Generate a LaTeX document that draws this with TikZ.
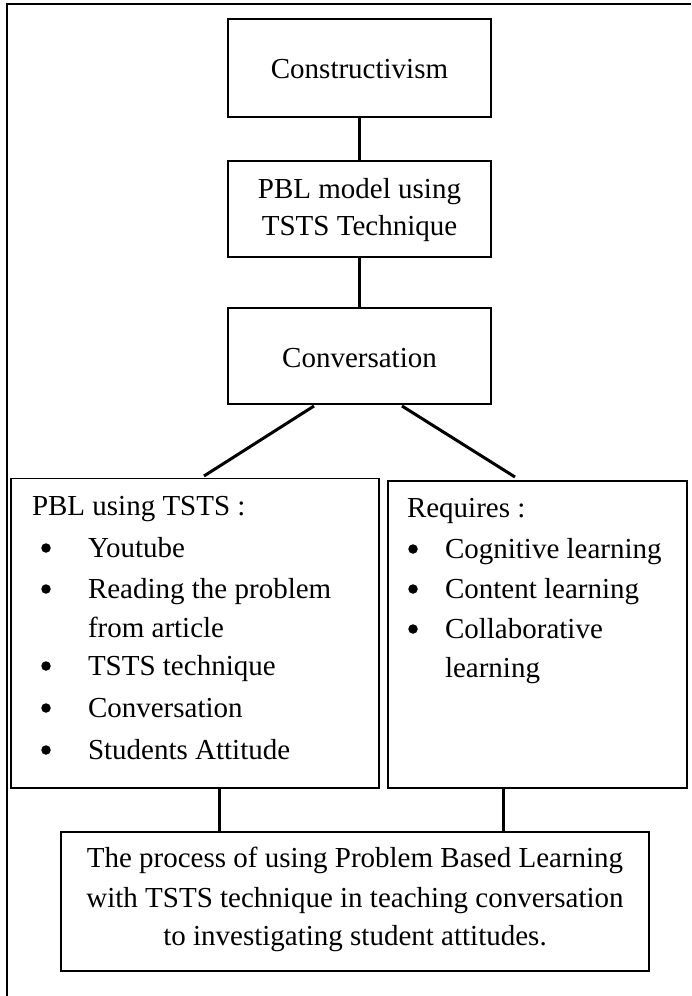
\documentclass[tikz,border=0pt]{standalone}
\usepackage{fontspec}
\setmainfont{Liberation Serif}
\begin{document}
\begin{tikzpicture}[x=1pt,y=-1pt,
  box/.style={draw,line width=1.1pt,rectangle,inner sep=0pt,outer sep=0pt},
  conn/.style={line width=3pt},
  frameline/.style={line width=2.3pt},
  txt/.style={inner sep=0pt,outer sep=0pt,font=\fontsize{29}{40}\selectfont},
  blt/.style={circle,fill=black,inner sep=0pt,minimum size=9.5pt}]
\useasboundingbox (0,0) rectangle (691,996);
% outer frame (only top and left visible)
\coordinate (fa) at (6.7,996);
\coordinate (fb) at (6.7,4);
\coordinate (fc) at (691,4);
\draw[frameline] (fa) -- (fb) -- (fc);
% boxes
\node[box,minimum width=263,minimum height=98] (c1) at (359.5,68) {};
\node[box,minimum width=263,minimum height=96] (c2) at (359.5,209) {};
\node[box,minimum width=263,minimum height=96] (c3) at (359.5,356) {};
\node[box,minimum width=368,minimum height=309.3] (lb) at (195,633.35) {};
\node[box,minimum width=299,minimum height=307] (rb) at (537.5,634.5) {};
\node[box,minimum width=588,minimum height=139] (bb) at (355,901.5) {};
% texts
\node[txt,anchor=base] (t1) at (359.5,78) {Constructivism};
\node[txt,anchor=base] (t2a) at (359.5,198) {PBL model using};
\node[txt,anchor=base] (t2b) at (359.5,235) {TSTS Technique};
\node[txt,anchor=base] (t3) at (359.5,367) {Conversation};
% left list
\node[txt,anchor=base west] (lh) at (32,515) {PBL using TSTS :};
\node[blt] (lb1) at (46,548) {};
\node[txt,anchor=base west] (l1) at (88,557) {Youtube};
\node[blt] (lb2) at (46,589) {};
\node[txt,anchor=base west] (l2) at (88,598) {Reading the problem};
\node[txt,anchor=base west] (l2b) at (88,637) {from article};
\node[blt] (lb3) at (46,666) {};
\node[txt,anchor=base west] (l3) at (88,675) {TSTS technique};
\node[blt] (lb4) at (46,708) {};
\node[txt,anchor=base west] (l4) at (88,717) {Conversation};
\node[blt] (lb5) at (46,750) {};
\node[txt,anchor=base west] (l5) at (88,759) {Students Attitude};
% right list
\node[txt,anchor=base west] (rh) at (407,517) {Requires :};
\node[blt] (rb1) at (413,549) {};
\node[txt,anchor=base west] (r1) at (445,558) {Cognitive learning};
\node[blt] (rb2) at (413,589) {};
\node[txt,anchor=base west] (r2) at (445,598) {Content learning};
\node[blt] (rb3) at (413,629) {};
\node[txt,anchor=base west] (r3) at (445,638) {Collaborative};
\node[txt,anchor=base west] (r3b) at (445,677) {learning};
% bottom text
\node[txt,anchor=base] (b1) at (355,867) {The process of using Problem Based Learning};
\node[txt,anchor=base] (b2) at (355,907) {with TSTS technique in teaching conversation};
\node[txt,anchor=base] (b3) at (355,945) {to investigating student attitudes.};
% connectors
\draw[conn] (c1.south) -- (c2.north);
\draw[conn] (c2.south) -- (c3.north);
\coordinate (d1a) at (314,406);
\coordinate (d1b) at (204,476);
\coordinate (d2a) at (402,406);
\coordinate (d2b) at (515,477);
\draw[conn] (d1a) -- (d1b);
\draw[conn] (d2a) -- (d2b);
\coordinate (v1a) at (219,788);
\coordinate (v2a) at (503,788);
\draw[conn] (v1a) -- (v1a |- bb.north);
\draw[conn] (v2a) -- (v2a |- bb.north);
\end{tikzpicture}
\end{document}
